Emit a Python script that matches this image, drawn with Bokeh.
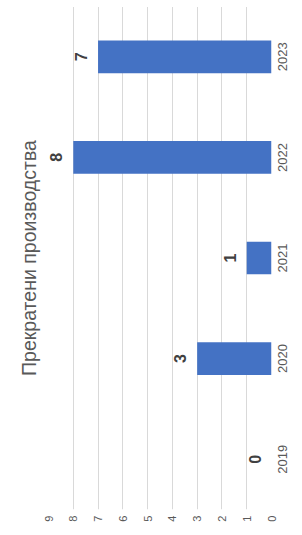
from bokeh.plotting import figure
from bokeh.models import Range1d, FactorRange, FixedTicker, Title, ColumnDataSource
from bokeh.core.properties import value
from bokeh.embed import file_html
from bokeh.resources import INLINE

years = ["2019", "2020", "2021", "2022", "2023"]
counts = [0, 3, 1, 8, 7]
value_ticks = [0, 1, 2, 3, 4, 5, 6, 7, 8, 9]
title_text = "Прекратени производства"

FONT = "Liberation Sans"

# The reference is an Excel column chart turned a quarter turn to the left:
# draw the upright column chart, then rotate the whole figure by -90 degrees.
# Bokeh sizes its canvas from the rotated on-screen box, so the figure box is
# given as the page's upright 286 x 519 area (canvas becomes 519 x 286).
BOX_W, BOX_H = 286, 519
SHIFT_X, SHIFT_Y = 124.5, 123.5

src = ColumnDataSource(dict(x=years, v=counts, lbl=[str(c) for c in counts]))

p = figure(width=BOX_W, height=BOX_H, output_backend="svg", toolbar_location=None,
           x_range=FactorRange(*years), y_range=Range1d(0, 9),
           min_border_left=16, min_border_right=0,
           min_border_top=40, min_border_bottom=23)
p.styles = {"transform": f"translate({SHIFT_X}px, {SHIFT_Y}px) rotate(-90deg)"}
p.outline_line_color = None
p.background_fill_color = "white"
p.border_fill_color = "white"

p.vbar(x="x", top="v", width=0.325, source=src,
       fill_color="#4472C4", line_color=None)
p.text(x="x", y="v", text="lbl", source=src, y_offset=-17,
       text_align="center", text_baseline="middle", text_font=value(FONT),
       text_font_size="16px", text_font_style="bold", text_color="#404040")

p.yaxis.ticker = FixedTicker(ticks=value_ticks)
p.yaxis.axis_line_color = None
p.yaxis.major_tick_line_color = None
p.yaxis.minor_tick_line_color = None
p.yaxis.major_tick_in = 0
p.yaxis.major_tick_out = 0
p.yaxis.major_label_text_font = FONT
p.yaxis.major_label_text_font_size = "11px"
p.yaxis.major_label_text_color = "#595959"
p.yaxis.major_label_standoff = 6

p.xaxis.axis_line_color = None
p.xaxis.major_tick_line_color = None
p.xaxis.major_tick_in = 0
p.xaxis.major_tick_out = 0
p.xaxis.major_label_text_font = FONT
p.xaxis.major_label_text_font_size = "13px"
p.xaxis.major_label_text_color = "#595959"
p.xaxis.major_label_standoff = 6

p.ygrid.grid_line_color = "#d9d9d9"
p.ygrid.ticker = FixedTicker(ticks=value_ticks)
p.xgrid.grid_line_color = None

# small blank title nearest the frame keeps the real title further away
p.add_layout(Title(text=" ", text_font_size="1px", standoff=6), "above")
p.add_layout(Title(text=title_text, align="center", text_font=FONT,
                   text_font_size="19.5px", text_font_style="normal",
                   text_color="#595959", standoff=0), "above")

open("out.html", "w").write(file_html(p, INLINE))
